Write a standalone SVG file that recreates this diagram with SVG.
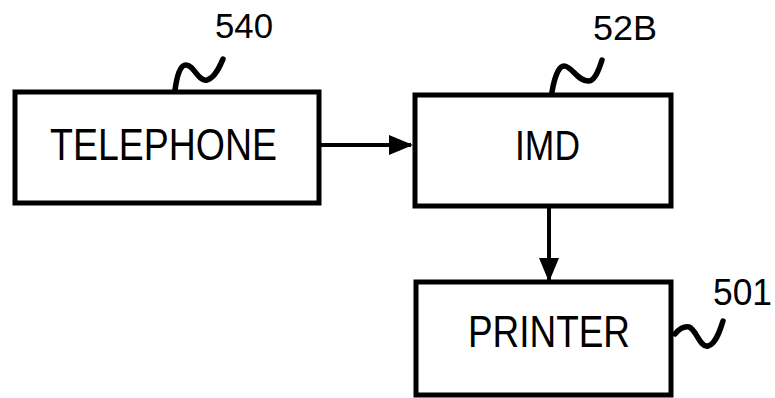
<svg xmlns="http://www.w3.org/2000/svg" width="775" height="398" viewBox="0 0 775 398">
<defs>
<style>
.box{fill:#fff;stroke:#000;stroke-width:5}
.lbl{font-family:"Liberation Sans",Arial,sans-serif;fill:#000}
.sq{fill:none;stroke:#000;stroke-width:5.5;stroke-linecap:round}
.conn{fill:none;stroke:#000;stroke-width:4}
</style>
<marker id="arr" markerWidth="6" markerHeight="5" refX="5.5" refY="2.5" orient="auto" markerUnits="strokeWidth">
<path d="M0,0 L6,2.5 L0,5 Z" fill="#000"/>
</marker>
</defs>
<rect width="775" height="398" fill="#fff"/>
<g id="connectors">
<line class="conn" x1="320" y1="145" x2="411" y2="145" marker-end="url(#arr)"/>
<line class="conn" x1="549" y1="208" x2="549" y2="280" marker-end="url(#arr)"/>
</g>
<g id="telephone">
<rect class="box" x="15" y="92" width="304" height="111"/>
<text class="lbl" x="50" y="160" font-size="44" textLength="227" lengthAdjust="spacingAndGlyphs">TELEPHONE</text>
<path class="sq" d="M175,90 C177,76 180,65 186,65 C194,65 198,82 207,80 C215,78 220,66 223,59"/>
<text class="lbl" x="215" y="38" font-size="35" textLength="58" lengthAdjust="spacingAndGlyphs">540</text>
</g>
<g id="imd">
<rect class="box" x="415" y="95" width="256" height="111"/>
<text class="lbl" x="515" y="160" font-size="42" textLength="65" lengthAdjust="spacingAndGlyphs">IMD</text>
<path class="sq" d="M552,92 C554,80 558,66 564,66 C572,66 578,82 589,81 C596,80 600,66 602,60"/>
<text class="lbl" x="593" y="40" font-size="35" textLength="64" lengthAdjust="spacingAndGlyphs">52B</text>
</g>
<g id="printer">
<rect class="box" x="416" y="282" width="255" height="113"/>
<text class="lbl" x="468" y="347" font-size="44" textLength="162" lengthAdjust="spacingAndGlyphs">PRINTER</text>
<path class="sq" d="M675,334 C680,328 684,326 689,327 C696,329 700,348 708,346 C716,344 720,330 723,321"/>
<text class="lbl" x="713" y="305" font-size="37" textLength="59" lengthAdjust="spacingAndGlyphs">501</text>
</g>
</svg>
